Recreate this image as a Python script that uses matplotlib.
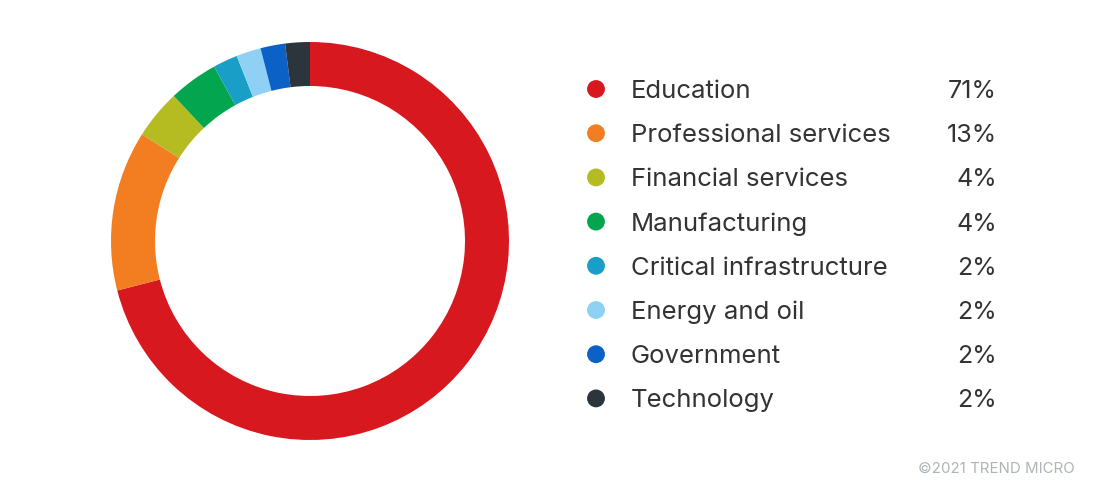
import matplotlib.pyplot as plt

# ---- Data ----
sectors = ['Education', 'Professional services', 'Financial services',
           'Manufacturing', 'Critical infrastructure', 'Energy and oil',
           'Government', 'Technology']
shares = [71, 13, 4, 4, 2, 2, 2, 2]
colors = ['#d7191f', '#f37e22', '#b4bc22', '#03a64f',
          '#199fc7', '#8fd1f4', '#0b61c5', '#2c343c']

plt.rcParams['font.family'] = ['Inter', 'DejaVu Sans']

fig = plt.figure(figsize=(11.08, 4.95), dpi=100)
W, H = 1108, 495

# ---- Donut ----
cx, cy, r = 310, 241, 200
ax = fig.add_axes([(cx - r) / W, (H - cy - r) / H, 2 * r / W, 2 * r / H])
ax.pie(shares, colors=colors, startangle=90, counterclock=False,
       radius=0.995, wedgeprops=dict(width=0.22, edgecolor='none'))
ax.set_xlim(-1, 1)
ax.set_ylim(-1, 1)
ax.set_aspect('equal')
ax.axis('off')

# ---- Legend (pixel coordinates) ----
lg = fig.add_axes([0, 0, 1, 1])
lg.set_xlim(0, W)
lg.set_ylim(H, 0)
lg.axis('off')

y0, step = 89, 44.2
for i, (name, val, c) in enumerate(zip(sectors, shares, colors)):
    y = y0 + i * step
    lg.scatter([596], [y], s=165, color=c, edgecolors='none')
    lg.text(631, y, name, fontsize=18.5, color='#333333',
            va='center_baseline', ha='left')
    lg.text(997, y, f'{val}%', fontsize=18, color='#333333',
            va='center_baseline', ha='right')

lg.text(1075, 469, '©2021 TREND MICRO', fontsize=10.8, color='#aeb3b7',
        va='center', ha='right')

fig.savefig('out.png', dpi=100)
